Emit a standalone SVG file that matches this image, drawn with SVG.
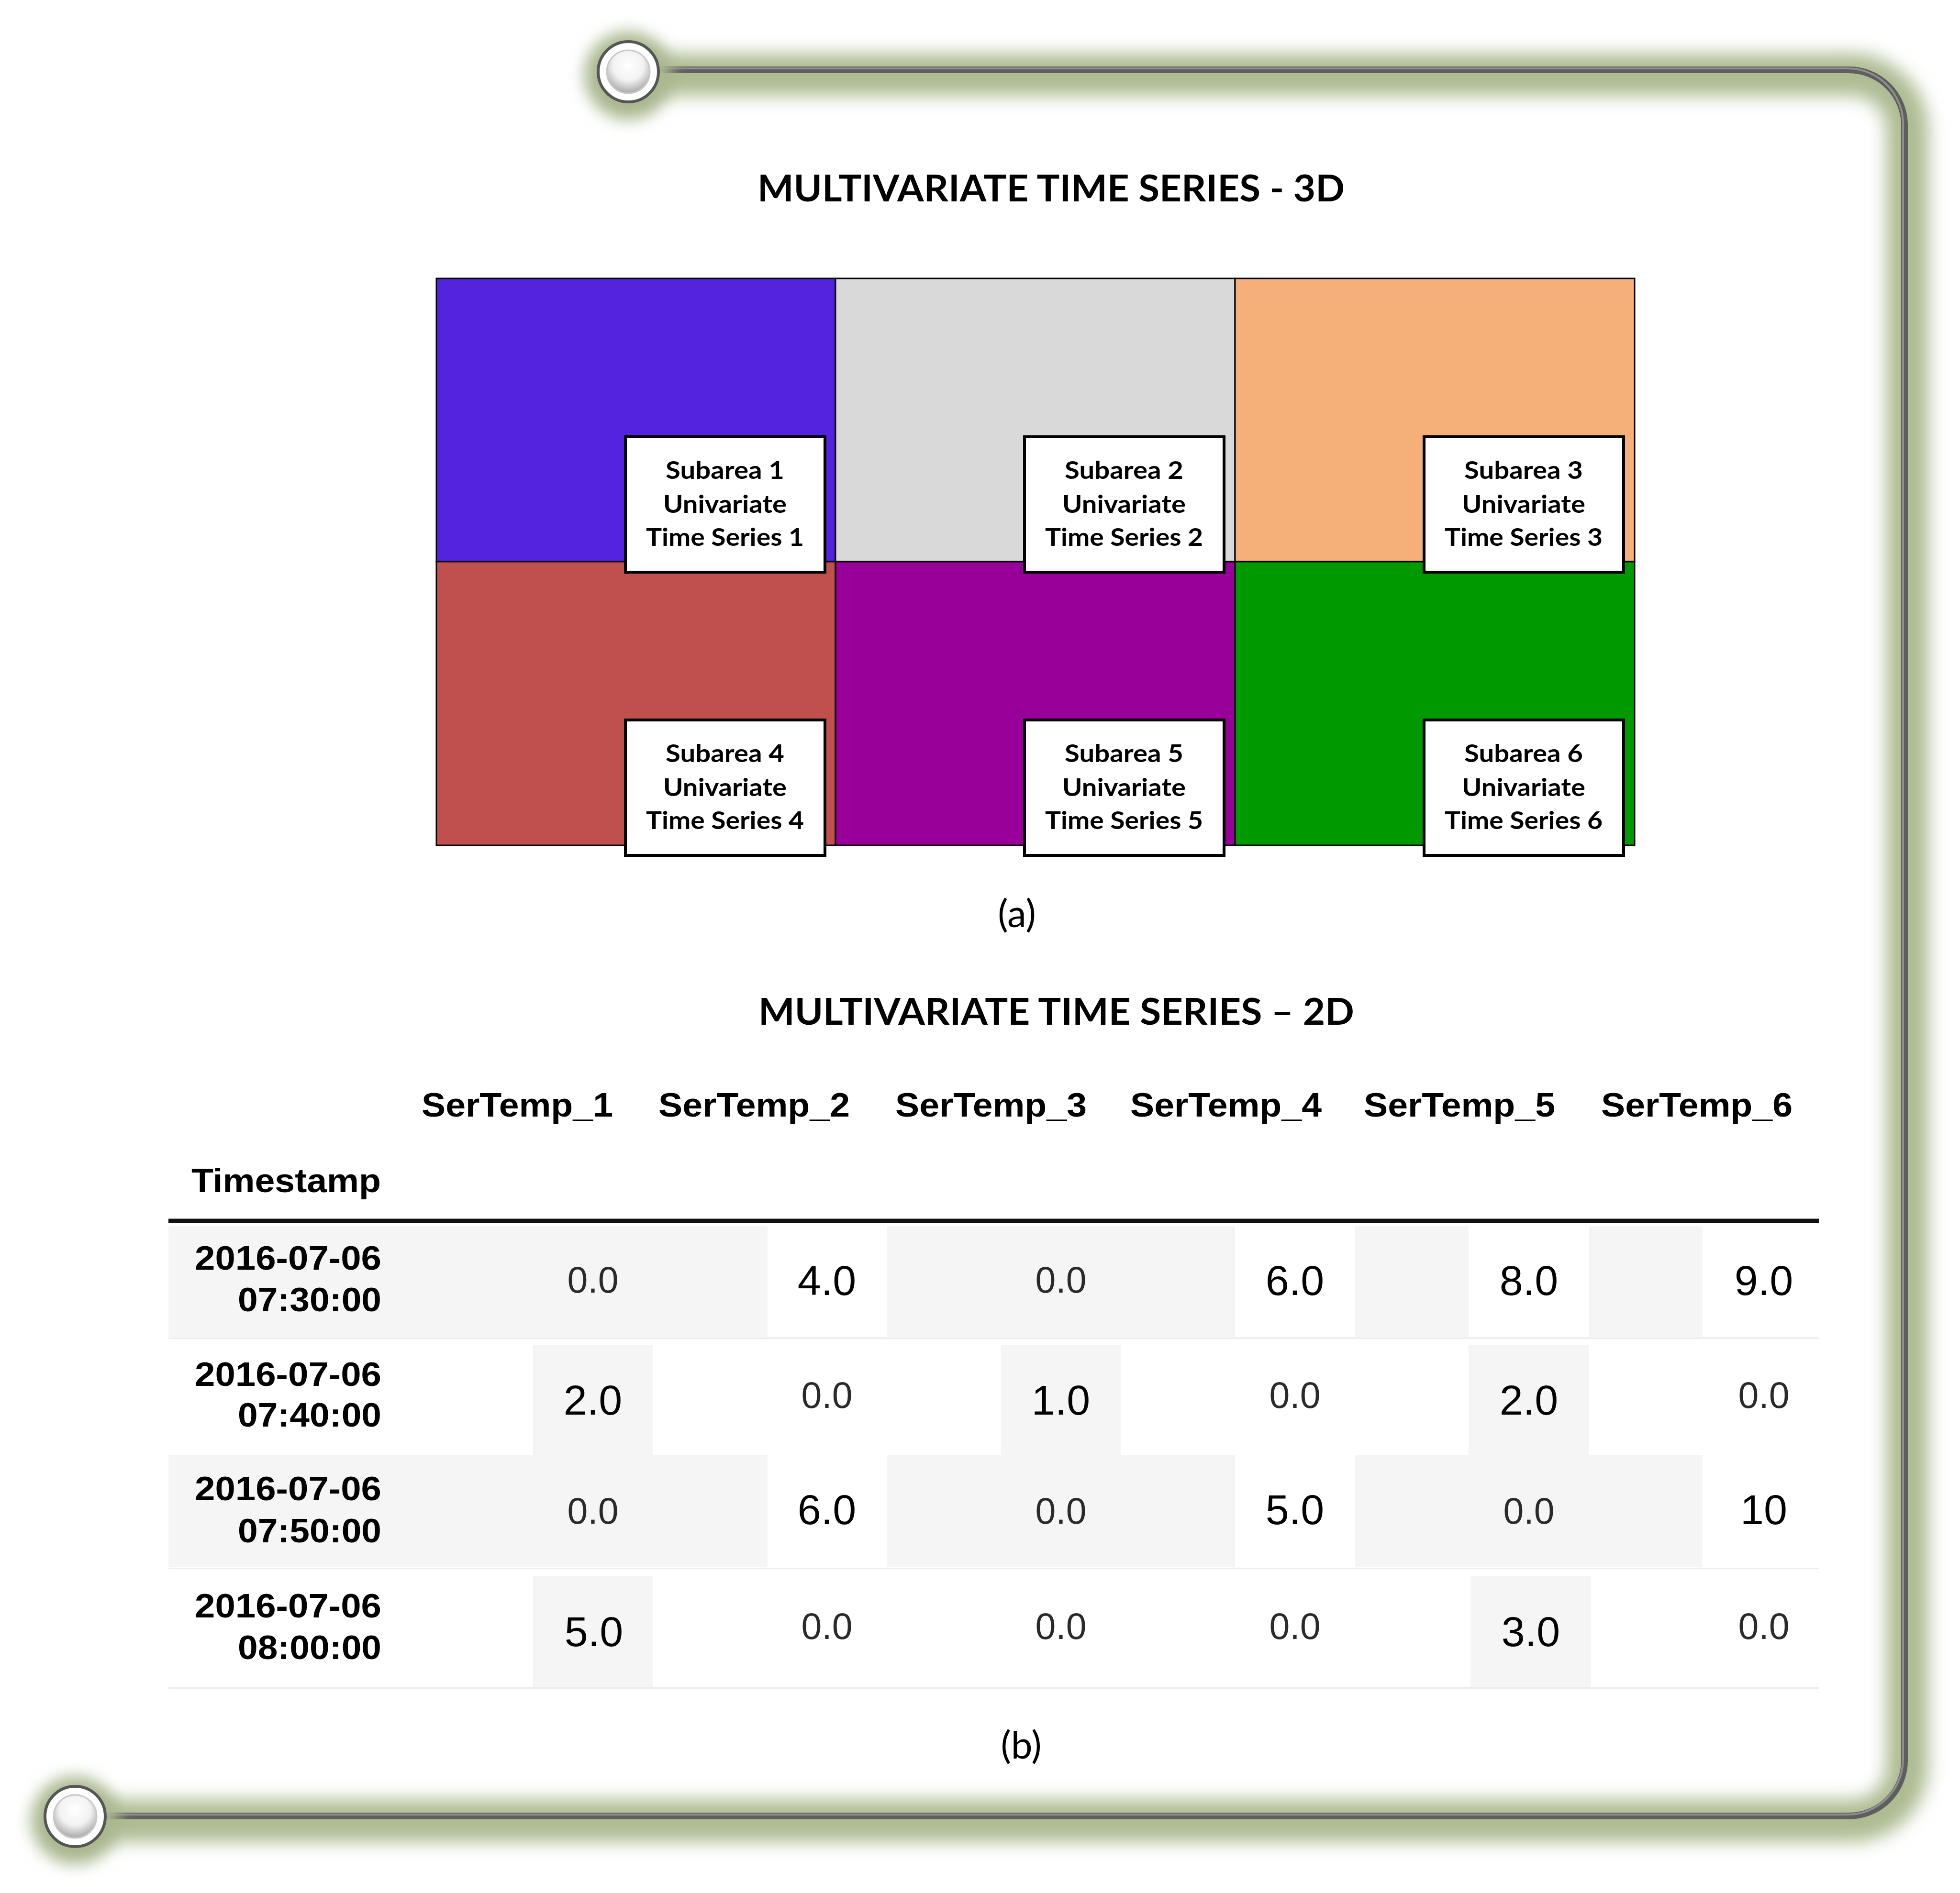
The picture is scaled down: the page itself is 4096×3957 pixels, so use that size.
<svg xmlns="http://www.w3.org/2000/svg" width="4096" height="3957" viewBox="0 0 4096 3957">
<defs>
<style>
.title{font-family:Lato,"Open Sans",sans-serif;font-weight:700;font-size:76px;fill:#000;}
.cap{font-family:Lato,"Open Sans",sans-serif;font-weight:400;font-size:80px;fill:#000;text-anchor:middle;}
.lbl{font-family:Lato,"Open Sans",sans-serif;font-weight:700;font-size:52px;fill:#000;text-anchor:middle;}
.cell{stroke:#000;stroke-width:3;}
.box{fill:#fff;stroke:#000;stroke-width:6;}
.hd{font-family:"Liberation Sans",Arial,sans-serif;font-weight:700;font-size:71px;fill:#000;text-anchor:end;}
.ts{font-family:"Liberation Sans",Arial,sans-serif;font-weight:700;font-size:70px;fill:#000;text-anchor:end;}
.vs{font-family:"Liberation Sans",Arial,sans-serif;font-size:77px;fill:#2a2a2a;text-anchor:middle;}
.vb{font-family:"Liberation Sans",Arial,sans-serif;font-size:88px;fill:#000;text-anchor:middle;}
.g{fill:#f5f5f5;}
.w{fill:#fff;}
</style>
<filter id="blur" x="-20%" y="-20%" width="140%" height="140%"><feGaussianBlur stdDeviation="18"/></filter>
<filter id="blurB" x="-100%" y="-100%" width="300%" height="300%"><feGaussianBlur stdDeviation="16"/></filter>
<radialGradient id="ballIn" cx="0.5" cy="0.35" r="0.65">
<stop offset="0" stop-color="#ffffff"/>
<stop offset="0.55" stop-color="#f2f2f2"/>
<stop offset="1" stop-color="#a8a8a8"/>
</radialGradient>
</defs>
<rect width="4096" height="3957" fill="#fff"/>

<g id="frame">
<path d="M 1313 146 H 3864 A 116 116 0 0 1 3980 262 V 3680 A 116 116 0 0 1 3864 3796 H 157" fill="none" stroke="#adbc92" stroke-width="88" filter="url(#blur)" transform="translate(6,10)"/>
<path d="M 1313 146 H 3864 A 116 116 0 0 1 3980 262 V 3680 A 116 116 0 0 1 3864 3796 H 157" fill="none" stroke="#5e5e5e" stroke-width="14"/>
<path d="M 1313 146 H 3864 A 116 116 0 0 1 3980 262 V 3680 A 116 116 0 0 1 3864 3796 H 157" fill="none" stroke="#8f8f8f" stroke-width="4" transform="translate(-3,-3)"/>
<g id="ball-top">
<circle cx="1313" cy="158" r="92" fill="#a9b78e" filter="url(#blurB)"/>
<circle cx="1313" cy="150" r="63" fill="#fff" stroke="#555" stroke-width="6"/>
<circle cx="1313" cy="150" r="45" fill="url(#ballIn)" stroke="#c8c8c8" stroke-width="3"/>
</g>
<g id="ball-bottom">
<circle cx="157" cy="3805" r="92" fill="#a9b78e" filter="url(#blurB)"/>
<circle cx="157" cy="3797" r="63" fill="#fff" stroke="#555" stroke-width="6"/>
<circle cx="157" cy="3797" r="45" fill="url(#ballIn)" stroke="#c8c8c8" stroke-width="3"/>
</g>
</g>

<text id="title-3d" class="title" x="1583" y="421" textLength="1227" lengthAdjust="spacingAndGlyphs">MULTIVARIATE TIME SERIES - 3D</text>

<g id="grid">
<rect class="cell" x="912" y="582" width="834" height="592" fill="#5323DD"/>
<rect class="cell" x="1746" y="582" width="835" height="592" fill="#D9D9D9"/>
<rect class="cell" x="2581" y="582" width="835" height="592" fill="#F4B078"/>
<rect class="cell" x="912" y="1174" width="834" height="593" fill="#C0504D"/>
<rect class="cell" x="1746" y="1174" width="835" height="593" fill="#990099"/>
<rect class="cell" x="2581" y="1174" width="835" height="593" fill="#009900"/>
</g>

<g id="subarea1"><rect class="box" x="1307" y="913" width="417" height="283"/>
<text class="lbl" x="1515" y="1001" textLength="248" lengthAdjust="spacingAndGlyphs">Subarea 1</text>
<text class="lbl" x="1515" y="1072" textLength="258" lengthAdjust="spacingAndGlyphs">Univariate</text>
<text class="lbl" x="1515" y="1141" textLength="330" lengthAdjust="spacingAndGlyphs">Time Series 1</text></g>
<g id="subarea2"><rect class="box" x="2141" y="913" width="417" height="283"/>
<text class="lbl" x="2349" y="1001" textLength="248" lengthAdjust="spacingAndGlyphs">Subarea 2</text>
<text class="lbl" x="2349" y="1072" textLength="258" lengthAdjust="spacingAndGlyphs">Univariate</text>
<text class="lbl" x="2349" y="1141" textLength="330" lengthAdjust="spacingAndGlyphs">Time Series 2</text></g>
<g id="subarea3"><rect class="box" x="2976" y="913" width="417" height="283"/>
<text class="lbl" x="3184" y="1001" textLength="248" lengthAdjust="spacingAndGlyphs">Subarea 3</text>
<text class="lbl" x="3184" y="1072" textLength="258" lengthAdjust="spacingAndGlyphs">Univariate</text>
<text class="lbl" x="3184" y="1141" textLength="330" lengthAdjust="spacingAndGlyphs">Time Series 3</text></g>
<g id="subarea4"><rect class="box" x="1307" y="1505" width="417" height="283"/>
<text class="lbl" x="1515" y="1593" textLength="248" lengthAdjust="spacingAndGlyphs">Subarea 4</text>
<text class="lbl" x="1515" y="1664" textLength="258" lengthAdjust="spacingAndGlyphs">Univariate</text>
<text class="lbl" x="1515" y="1733" textLength="330" lengthAdjust="spacingAndGlyphs">Time Series 4</text></g>
<g id="subarea5"><rect class="box" x="2141" y="1505" width="417" height="283"/>
<text class="lbl" x="2349" y="1593" textLength="248" lengthAdjust="spacingAndGlyphs">Subarea 5</text>
<text class="lbl" x="2349" y="1664" textLength="258" lengthAdjust="spacingAndGlyphs">Univariate</text>
<text class="lbl" x="2349" y="1733" textLength="330" lengthAdjust="spacingAndGlyphs">Time Series 5</text></g>
<g id="subarea6"><rect class="box" x="2976" y="1505" width="417" height="283"/>
<text class="lbl" x="3184" y="1593" textLength="248" lengthAdjust="spacingAndGlyphs">Subarea 6</text>
<text class="lbl" x="3184" y="1664" textLength="258" lengthAdjust="spacingAndGlyphs">Univariate</text>
<text class="lbl" x="3184" y="1733" textLength="330" lengthAdjust="spacingAndGlyphs">Time Series 6</text></g>

<text id="cap-a" class="cap" x="2125" y="1938">(a)</text>

<text id="title-2d" class="title" x="1585" y="2142" textLength="1245" lengthAdjust="spacingAndGlyphs">MULTIVARIATE TIME SERIES – 2D</text>

<g id="table">
<g id="table-bg">
<rect class="g" x="352" y="2563" width="3449" height="234"/>
<rect class="w" x="1604" y="2563" width="249" height="232"/>
<rect class="w" x="2581" y="2563" width="251" height="232"/>
<rect class="w" x="3069" y="2563" width="252" height="232"/>
<rect class="w" x="3558" y="2563" width="243" height="232"/>
<rect fill="#ececec" x="352" y="2796" width="3449" height="3"/>
<rect class="g" x="1114" y="2812" width="250" height="229"/>
<rect class="g" x="2092" y="2812" width="250" height="229"/>
<rect class="g" x="3069" y="2812" width="252" height="229"/>
<rect class="g" x="352" y="3041" width="3449" height="234"/>
<rect class="w" x="1604" y="3041" width="249" height="234"/>
<rect class="w" x="2581" y="3041" width="251" height="234"/>
<rect class="w" x="3558" y="3041" width="243" height="234"/>
<rect fill="#ececec" x="352" y="3277" width="3449" height="3"/>
<rect class="g" x="1114" y="3294" width="250" height="232"/>
<rect class="g" x="3073" y="3294" width="252" height="232"/>
<rect fill="#ececec" x="352" y="3527" width="3449" height="4"/>
</g>
<line x1="352" y1="2552" x2="3801" y2="2552" stroke="#111" stroke-width="9"/>
<g id="table-header">
<text class="hd" x="1281" y="2334" textLength="400" lengthAdjust="spacingAndGlyphs">SerTemp_1</text>
<text class="hd" x="1776" y="2334" textLength="400" lengthAdjust="spacingAndGlyphs">SerTemp_2</text>
<text class="hd" x="2271" y="2334" textLength="400" lengthAdjust="spacingAndGlyphs">SerTemp_3</text>
<text class="hd" x="2762" y="2334" textLength="400" lengthAdjust="spacingAndGlyphs">SerTemp_4</text>
<text class="hd" x="3250" y="2334" textLength="400" lengthAdjust="spacingAndGlyphs">SerTemp_5</text>
<text class="hd" x="3746" y="2334" textLength="400" lengthAdjust="spacingAndGlyphs">SerTemp_6</text>
<text class="hd" x="796" y="2492" textLength="396" lengthAdjust="spacingAndGlyphs">Timestamp</text>
</g>
<g id="table-index">
<text class="ts" x="797" y="2654" textLength="390" lengthAdjust="spacingAndGlyphs">2016-07-06</text>
<text class="ts" x="797" y="2741" textLength="300" lengthAdjust="spacingAndGlyphs">07:30:00</text>
<text class="ts" x="797" y="2897" textLength="390" lengthAdjust="spacingAndGlyphs">2016-07-06</text>
<text class="ts" x="797" y="2982" textLength="300" lengthAdjust="spacingAndGlyphs">07:40:00</text>
<text class="ts" x="797" y="3136" textLength="390" lengthAdjust="spacingAndGlyphs">2016-07-06</text>
<text class="ts" x="797" y="3224" textLength="300" lengthAdjust="spacingAndGlyphs">07:50:00</text>
<text class="ts" x="797" y="3381" textLength="390" lengthAdjust="spacingAndGlyphs">2016-07-06</text>
<text class="ts" x="797" y="3468" textLength="300" lengthAdjust="spacingAndGlyphs">08:00:00</text>
</g>
<g id="table-values">
<text class="vs" x="1239" y="2702">0.0</text>
<text class="vb" x="1728" y="2707">4.0</text>
<text class="vs" x="2217" y="2702">0.0</text>
<text class="vb" x="2706" y="2707">6.0</text>
<text class="vb" x="3195" y="2707">8.0</text>
<text class="vb" x="3686" y="2707">9.0</text>

<text class="vb" x="1239" y="2957">2.0</text>
<text class="vs" x="1728" y="2943">0.0</text>
<text class="vb" x="2217" y="2957">1.0</text>
<text class="vs" x="2706" y="2943">0.0</text>
<text class="vb" x="3195" y="2957">2.0</text>
<text class="vs" x="3686" y="2943">0.0</text>

<text class="vs" x="1239" y="3185">0.0</text>
<text class="vb" x="1728" y="3186">6.0</text>
<text class="vs" x="2217" y="3185">0.0</text>
<text class="vb" x="2706" y="3186">5.0</text>
<text class="vs" x="3195" y="3185">0.0</text>
<text class="vb" x="3686" y="3186">10</text>

<text class="vb" x="1241" y="3441">5.0</text>
<text class="vs" x="1728" y="3426">0.0</text>
<text class="vs" x="2217" y="3426">0.0</text>
<text class="vs" x="2706" y="3426">0.0</text>
<text class="vb" x="3199" y="3441">3.0</text>
<text class="vs" x="3686" y="3426">0.0</text>
</g>
</g>

<text id="cap-b" class="cap" x="2134" y="3676">(b)</text>
</svg>
